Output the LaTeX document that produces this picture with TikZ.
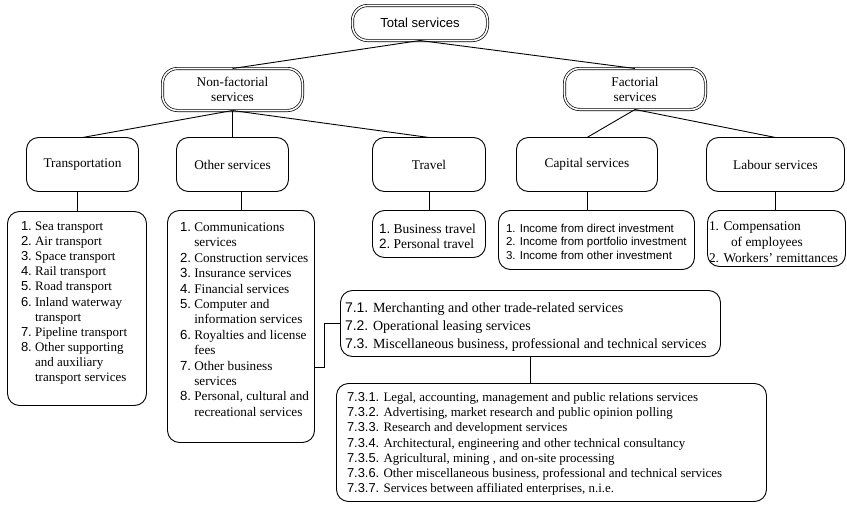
\documentclass[tikz,border=0pt]{standalone}
\usepackage{fontspec}
\setmainfont{Liberation Serif}
\setsansfont{Liberation Sans}
\usetikzlibrary{calc}
\newcommand\sn[1]{{\sffamily #1}}
\newcommand\fsz[2]{\fontsize{#1}{#2}\selectfont}

\begin{document}
\begin{tikzpicture}[x=1pt,y=-1pt,line width=0.9pt,
  pill/.style={draw, double, double distance=1.6pt, line width=0.7pt,
    rounded corners=15pt, inner sep=0pt, outer sep=0pt, align=center,
    font=\fsz{13.3}{15}},
  hdr/.style={draw, rounded corners=12pt, inner sep=0pt, outer sep=0pt,
    minimum height=54pt, align=center, font=\fsz{13.3}{15}},
  lst/.style={draw, rounded corners=12pt, inner sep=0pt, outer sep=0pt},
  txt/.style={inner sep=0pt, outer sep=0pt, anchor=base west}
]
\useasboundingbox (0,0) rectangle (847,506);

% top level
\node[pill, minimum width=135pt, minimum height=35pt, font=\sffamily\fsz{13.1}{15}]
  (total) at (420,23) {Total services};
\node[pill, minimum width=140pt, minimum height=42pt] (nonf) at (232.5,89.5)
  {Non-factorial\\services};
\node[pill, minimum width=141pt, minimum height=41pt] (fact) at (635,89)
  {Factorial\\services};

% second level
\node[hdr, minimum width=112pt] (trans)  at (82.5,164.5) {Transportation};
\node[hdr, minimum width=112pt] (other)  at (232.5,164.5) {Other services};
\node[hdr, minimum width=113pt] (travel) at (429,164.5) {Travel};
\node[hdr, minimum width=141pt] (cap)    at (587,164.5) {Capital services};
\node[hdr, minimum width=138pt] (lab)    at (775.5,164.5) {Labour services};

% list boxes
\node[lst, minimum width=139pt, minimum height=194pt] (tbox) at (77,308.5) {};
\node[lst, minimum width=147pt, minimum height=232pt] (obox) at (241,326.5) {};
\node[lst, minimum width=113pt, minimum height=47pt]  (vbox) at (429,234) {};
\node[lst, minimum width=196pt, minimum height=59pt]  (cbox) at (596.5,240) {};
\node[lst, minimum width=138pt, minimum height=56pt]  (lbox) at (776.5,238.5) {};
\node[lst, minimum width=380pt, minimum height=66pt]  (sub)  at (530.5,323.5) {};
\node[lst, minimum width=430pt, minimum height=118pt] (subsub) at (551.5,442.5) {};

% list texts
\node[txt, font=\fsz{13}{15.1}] (ttext) at (21,230.5) {%
\begin{tabular}[t]{@{}l@{\ }l@{}}
\sn{1.} & Sea transport\\
\sn{2.} & Air transport\\
\sn{3.} & Space transport\\
\sn{4.} & Rail transport\\
\sn{5.} & Road transport\\
\sn{6.} & Inland waterway\\
        & transport\\
\sn{7.} & Pipeline transport\\
\sn{8.} & Other supporting\\
        & and auxiliary\\
        & transport services
\end{tabular}};

\node[txt, font=\fsz{13.2}{15.4}] (otext) at (180,231.5) {%
\begin{tabular}[t]{@{}l@{\ }l@{}}
\sn{1.} & Communications\\
        & services\\
\sn{2.} & Construction services\\
\sn{3.} & Insurance services\\
\sn{4.} & Financial services\\
\sn{5.} & Computer and\\
        & information services\\
\sn{6.} & Royalties and license\\
        & fees\\
\sn{7.} & Other business\\
        & services\\
\sn{8.} & Personal, cultural and\\
        & recreational services
\end{tabular}};

\node[txt, font=\fsz{13.5}{15}] (vtext) at (379,233.5) {%
\begin{tabular}[t]{@{}l@{\ }l@{}}
\sn{1.} & Business travel\\
\sn{2.} & Personal travel
\end{tabular}};

\node[txt, font=\sffamily\fsz{11.5}{13.5}] (ctext) at (506,232) {%
\begin{tabular}[t]{@{}l@{}}
1. Income from direct investment\\
2. Income from portfolio investment\\
3. Income from other investment
\end{tabular}};

\node[txt, font=\fsz{13.4}{16}] (ltext) at (709,230) {%
\begin{tabular}[t]{@{}l@{}}
1. Compensation\\
\hspace{22pt}of employees\\
2. Workers' remittances
\end{tabular}};

\node[txt, font=\fsz{14}{18}] (stext) at (345,312) {%
\begin{tabular}[t]{@{}l@{}}
\sn{7.1.} Merchanting and other trade-related services\\
\sn{7.2.} Operational leasing services\\
\sn{7.3.} Miscellaneous business, professional and technical services
\end{tabular}};

\node[txt, font=\fsz{12.9}{15.17}] (sstext) at (347,401.5) {%
\begin{tabular}[t]{@{}l@{}}
\sn{7.3.1.} Legal, accounting, management and public relations services\\
\sn{7.3.2.} Advertising, market research and public opinion polling\\
\sn{7.3.3.} Research and development services\\
\sn{7.3.4.} Architectural, engineering and other technical consultancy\\
\sn{7.3.5.} Agricultural, mining , and on-site processing\\
\sn{7.3.6.} Other miscellaneous business, professional and technical services\\
\sn{7.3.7.} Services between affiliated enterprises, n.i.e.
\end{tabular}};

% tree connectors
\draw (total.south) -- (nonf.north);
\draw (total.south) -- (fact.north);
\draw (nonf.south) -- (trans.north);
\draw (nonf.south) -- (other.north);
\draw (nonf.south) -- (travel.north);
\draw (fact.south) -- (cap.north);
\draw (fact.south) -- (lab.north);

% headers to their lists
\draw (tbox.north) -- (tbox.north |- trans.south);
\draw (obox.north) -- (obox.north |- other.south);
\draw (travel.south) -- (vbox.north);
\draw (cap.south) -- (cap.south |- cbox.north);
\draw (lab.south) -- (lab.south |- lbox.north);

% other business services breakdown
\draw ([yshift=-40.5pt]obox.east) -- ++(10,0) |- (sub.west);
\draw (sub.south) -- (sub.south |- subsub.north);
\end{tikzpicture}
\end{document}
